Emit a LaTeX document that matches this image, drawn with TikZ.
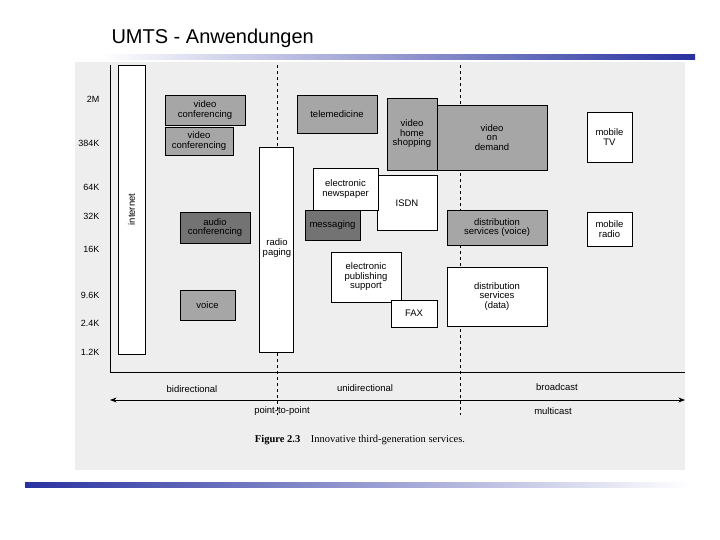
\documentclass[tikz,border=0pt]{standalone}
\usepackage{fontspec}
\setmainfont{Liberation Sans}
\setsansfont{Liberation Sans}
\newfontfamily\capfont{Liberation Serif}
\usetikzlibrary{arrows.meta}
\definecolor{rulblue}{RGB}{40,50,160}
\definecolor{scan}{RGB}{238,238,238}
\tikzset{
  svc/.style={draw,thick,rectangle,fill=white,align=center,font=\fontsize{9.5}{9.5}\selectfont,inner sep=1pt},
  svcgray/.style={svc,fill=black!35},
  svcdark/.style={svc,fill=black!55},
  rate/.style={font=\fontsize{9}{9}\selectfont,anchor=east},
  axlabel/.style={font=\fontsize{9.5}{10}\selectfont}
}
\begin{document}
\begin{tikzpicture}[x=1pt,y=-1pt]
	\useasboundingbox (0,0) rectangle (720,540);
	% title and rules
	\node[anchor=west,font=\fontsize{20}{22}\selectfont] (title) at (108,38) {UMTS - Anwendungen};
	\shade[left color=white,right color=rulblue] (100,55) rectangle (695,60);
	\shade[left color=rulblue,right color=white] (25,482) rectangle (690,487);
	% scanned figure background
	\fill[scan] (75,62) rectangle (685,470);

	% rate axis
	\node[rate] (r1) at (103,99) {2M};
	\node[rate] (r2) at (103,143) {384K};
	\node[rate] (r3) at (103,187) {64K};
	\node[rate] (r4) at (103,216) {32K};
	\node[rate] (r5) at (103,249) {16K};
	\node[rate] (r6) at (103,295) {9.6K};
	\node[rate] (r7) at (103,323) {2.4K};
	\node[rate] (r8) at (103,352) {1.2K};
	\coordinate (ytop) at (110,65);
	\coordinate (orig) at (110,372);
	\coordinate (xend) at (685,372);
	\draw[thick] (ytop) -- (orig) -- (xend);
	\draw[dashed] (277,65) -- (277,415);
	\draw[dashed] (460,65) -- (460,415);

	% services
	\node[svc,minimum width=27pt,minimum height=289pt] (inet) at (131.5,209.5) {};
	\node[rotate=90,font=\fontsize{9.5}{9.5}\selectfont] (inettxt) at (inet.center) {internet};
	\node[svc,minimum width=34pt,minimum height=205pt] (paging) at (276,249.5) {};
	\node[font=\fontsize{9.5}{9.5}\selectfont,align=center,inner sep=1pt] (pagingtxt) at (277,248) {radio\\paging};
	\node[svcgray,minimum width=80pt,minimum height=30pt] (vc1) at (205,110) {video\\conferencing};
	\node[svcgray,minimum width=68pt,minimum height=28pt] (vc2) at (199,141) {video\\conferencing};
	\node[svcdark,minimum width=70pt,minimum height=31pt] (audio) at (215,227.5) {audio\\conferencing};
	\node[svcgray,minimum width=55pt,minimum height=30pt] (voice) at (207.5,305) {voice};
	\node[svcgray,minimum width=80pt,minimum height=38pt] (tele) at (337,114) {telemedicine};
	\node[svcgray,minimum width=50pt,minimum height=72pt] (vhs) at (412,134) {video\\home\\shopping};
	\node[svcgray,minimum width=110pt,minimum height=65pt] (vod) at (492,137.5) {video\\on\\demand};
	\node[svc,minimum width=60pt,minimum height=55pt] (isdn) at (407,203) {ISDN};
	\node[svc,minimum width=65pt,minimum height=42pt] (news) at (345.5,189) {electronic\\newspaper};
	\node[svcdark,minimum width=55pt,minimum height=30pt] (msg) at (332.5,225) {messaging};
	\node[svc,minimum width=70pt,minimum height=50pt] (pub) at (366,277) {electronic\\publishing\\support};
	\node[svc,minimum width=46pt,minimum height=27pt] (fax) at (414,313.5) {FAX};
	\node[svcgray,minimum width=100pt,minimum height=35pt] (dsv) at (497,227.5) {distribution\\services (voice)};
	\node[svc,minimum width=100pt,minimum height=59pt] (dsd) at (497,296.5) {distribution\\services\\(data)};
	\node[svc,minimum width=45pt,minimum height=50pt] (mtv) at (609.5,137) {mobile\\TV};
	\node[svc,minimum width=45pt,minimum height=34pt] (mradio) at (609.5,229) {mobile\\radio};

	% transmission axis
	\node[axlabel] (bidir) at (192,389) {bidirectional};
	\node[axlabel] (unidir) at (365,388) {unidirectional};
	\node[axlabel] (bcast) at (557,387) {broadcast};
	\coordinate (aleft) at (110,400);
	\coordinate (aright) at (685,400);
	\draw[thick,{Stealth}-{Stealth}] (aleft) -- (aright);
	\node[axlabel] (p2p) at (282,411) {point-to-point};
	\node[axlabel] (mcast) at (553,411) {multicast};
	\node[font=\capfont\fontsize{10.5}{11}\selectfont] (caption) at (360,440) {\textbf{Figure 2.3}\quad Innovative third-generation services.};
\end{tikzpicture}
\end{document}
